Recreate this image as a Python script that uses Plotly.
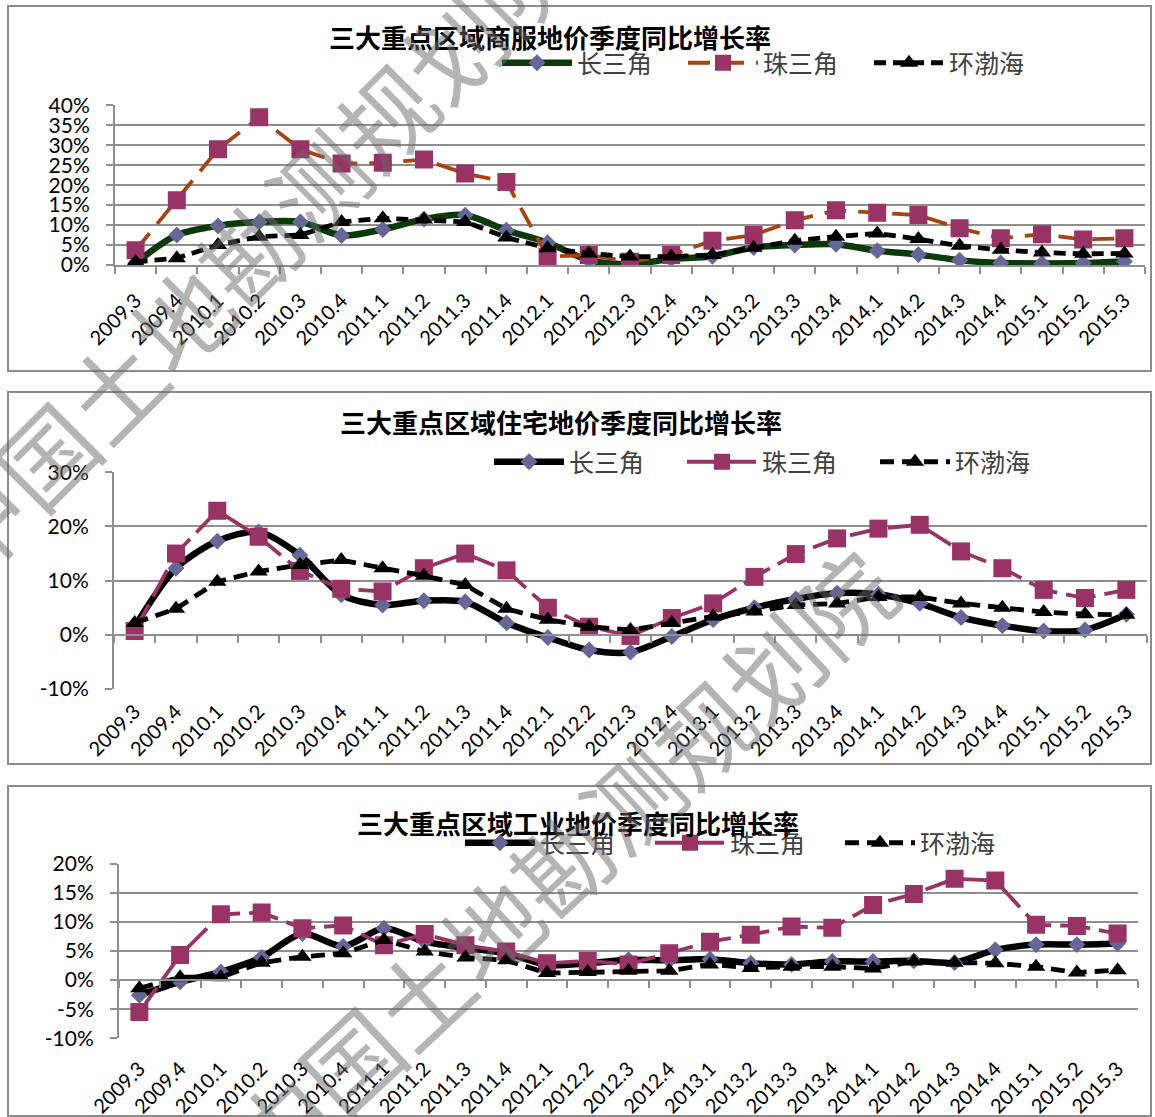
import plotly.graph_objects as go

W, H = 1155, 1117

quarters = ["2009.3", "2009.4",
            "2010.1", "2010.2", "2010.3", "2010.4",
            "2011.1", "2011.2", "2011.3", "2011.4",
            "2012.1", "2012.2", "2012.3", "2012.4",
            "2013.1", "2013.2", "2013.3", "2013.4",
            "2014.1", "2014.2", "2014.3", "2014.4",
            "2015.1", "2015.2", "2015.3"]

regions = ["长三角", "珠三角", "环渤海"]

titles = ["三大重点区域商服地价季度同比增长率",
          "三大重点区域住宅地价季度同比增长率",
          "三大重点区域工业地价季度同比增长率"]

# 商服地价同比增长率 (%)
comm_yrd = [0.5, 7.5, 9.8, 10.8, 10.8, 7.4, 8.9, 11.5, 12.5, 8.7, 5.6, 1.2, 0.2,
            1.5, 2.2, 4.4, 5.0, 5.2, 3.6, 2.6, 1.2, 0.5, 0.4, 0.5, 0.9]
comm_prd = [3.7, 16.2, 29.0, 37.0, 29.0, 25.4, 25.6, 26.4, 22.9, 20.8, 2.1, 2.5, 0.8,
            2.5, 6.1, 7.5, 11.2, 13.7, 13.1, 12.5, 9.2, 6.7, 7.7, 6.4, 6.7]
comm_bh = [0.8, 1.7, 5.0, 7.1, 7.5, 10.8, 11.7, 11.4, 10.8, 6.9, 4.2, 2.9, 2.1,
           2.1, 2.5, 4.3, 6.1, 7.1, 7.9, 6.5, 4.8, 3.8, 3.1, 2.8, 2.9]

# 住宅地价同比增长率 (%)
res_yrd = [1.5, 12.3, 17.3, 19.0, 14.7, 7.4, 5.5, 6.3, 6.1, 2.2, -0.5, -2.8, -3.2,
           -0.3, 2.8, 5.0, 6.6, 7.7, 7.5, 5.8, 3.2, 1.7, 0.7, 0.9, 3.8]
res_prd = [0.7, 15.0, 22.9, 18.1, 11.8, 8.5, 8.0, 12.3, 15.0, 11.9, 5.0, 1.5, -0.2,
           3.1, 5.8, 10.7, 14.9, 17.8, 19.6, 20.3, 15.4, 12.3, 8.3, 6.8, 8.3]
res_bh = [2.2, 4.8, 9.8, 11.7, 12.9, 13.8, 12.3, 10.9, 9.2, 4.8, 2.8, 1.5, 0.9,
          2.2, 3.4, 4.3, 5.5, 5.8, 7.0, 7.0, 5.8, 5.0, 4.2, 3.8, 3.7]

# 工业地价同比增长率 (%)
ind_yrd = [-2.6, -0.3, 1.4, 3.9, 8.0, 5.8, 8.9, 6.6, 5.5, 4.6, 2.6, 2.9, 3.5,
           3.4, 3.6, 2.9, 2.7, 3.2, 3.2, 3.3, 3.0, 5.2, 6.1, 6.1, 6.3]
ind_prd = [-5.5, 4.3, 11.3, 11.6, 8.9, 9.4, 6.0, 7.9, 6.0, 4.9, 2.9, 3.3, 2.7,
           4.6, 6.6, 7.8, 9.2, 9.0, 12.9, 14.8, 17.4, 17.1, 9.5, 9.3, 8.0]
ind_bh = [-1.4, 0.5, 0.5, 3.0, 4.0, 4.6, 6.9, 4.9, 3.9, 3.4, 1.2, 1.4, 1.6,
          1.6, 2.7, 2.1, 2.3, 2.3, 2.0, 3.2, 3.0, 2.9, 2.3, 1.3, 1.7]

comm_ticks = [0, 5, 10, 15, 20, 25, 30, 35, 40]
res_ticks = [-10, 0, 10, 20, 30]
ind_ticks = [-10, -5, 0, 5, 10, 15, 20]

watermark = "中国土地勘测规划院"


def px_x(v):
    return v / W


def px_y(v):
    return 1 - v / H


CJK = "Noto Sans CJK SC"
NUM = "Lato"
GRID = "#8f8f8f"
SQUARE = "#993366"
DIAMOND = "#666699"

# layout of the three panels (pixel boxes)
panels = [
    dict(suffix="", legend="legend", series=[comm_yrd, comm_prd, comm_bh],
         ticks=comm_ticks, x0=115, x1=1145, ytop=105.3, ybot=265,
         box=(8, 6, 1151, 371), title_xy=(550, 36),
         legend_xy=(497, 63), legend_step=101,
         yrd_color="#0A3A0A", prd_line="#A8420E",
         prd_dash="22px,12px", bh_dash="12px,7px", axis_at_zero=False,
         label_pad=14),
    dict(suffix="2", legend="legend2", series=[res_yrd, res_prd, res_bh],
         ticks=res_ticks, x0=114, x1=1147, ytop=472.3, ybot=689,
         box=(8, 392, 1151, 764), title_xy=(561, 422),
         legend_xy=(489, 462), legend_step=108,
         yrd_color="#000000", prd_line=SQUARE,
         prd_dash="30px,9px", bh_dash="14px,8px", axis_at_zero=True,
         label_pad=6),
    dict(suffix="3", legend="legend3", series=[ind_yrd, ind_prd, ind_bh],
         ticks=ind_ticks, x0=119, x1=1138, ytop=863.7, ybot=1038.3,
         box=(8, 786, 1151, 1116), title_xy=(578, 822),
         legend_xy=(460, 843), legend_step=105,
         yrd_color="#000000", prd_line=SQUARE,
         prd_dash="30px,9px", bh_dash="14px,8px", axis_at_zero=True,
         label_pad=14),
]

fig = go.Figure()
layout = dict(
    width=W, height=H,
    margin=dict(l=0, r=0, t=0, b=0, autoexpand=False),
    paper_bgcolor="white", plot_bgcolor="white",
    showlegend=True,
    annotations=[], shapes=[],
)

for i, p in enumerate(panels):
    s = p["suffix"]
    xa, ya = "x" + s, "y" + s
    yrd, prd, bh = p["series"]

    fig.add_trace(go.Scatter(
        x=quarters, y=yrd, name=regions[0], xaxis=xa, yaxis=ya, legend=p["legend"],
        mode="lines+markers",
        line=dict(color=p["yrd_color"], width=6.5, shape="spline", smoothing=0.8),
        marker=dict(symbol="diamond", size=13, color=DIAMOND)))
    fig.add_trace(go.Scatter(
        x=quarters, y=prd, name=regions[1], xaxis=xa, yaxis=ya, legend=p["legend"],
        mode="lines+markers",
        line=dict(color=p["prd_line"], width=3.8, dash=p["prd_dash"]),
        marker=dict(symbol="square", size=18, color=SQUARE)))
    fig.add_trace(go.Scatter(
        x=quarters, y=bh, name=regions[2], xaxis=xa, yaxis=ya, legend=p["legend"],
        mode="lines+markers",
        line=dict(color="black", width=4.8, dash=p["bh_dash"]),
        marker=dict(symbol="triangle-up", size=16, color="black")))

    lo, hi = p["ticks"][0], p["ticks"][-1]
    ydom = [px_y(p["ybot"]), px_y(p["ytop"])]
    xdom = [px_x(p["x0"]), px_x(p["x1"])]

    layout["xaxis" + s] = dict(
        domain=xdom, anchor=ya, type="category", range=[-0.5, len(quarters) - 0.5],
        showgrid=False, zeroline=False, tickangle=-45,
        tickfont=dict(family=NUM, size=20, color="black"),
        showline=not p["axis_at_zero"], linecolor=GRID, linewidth=2,
        ticks="" if p["axis_at_zero"] else "outside", tickson="boundaries",
        ticklen=7, tickcolor=GRID, tickwidth=2,
        ticklabelstandoff=p["label_pad"],
    )
    layout["yaxis" + s] = dict(
        domain=ydom, anchor=xa, range=[lo, hi], tickmode="array",
        tickvals=p["ticks"], ticktext=[f"{t}%" for t in p["ticks"]],
        showgrid=True, gridcolor=GRID, gridwidth=1.6,
        zeroline=False, showline=True, linecolor=GRID, linewidth=2,
        ticks="outside", ticklen=7, tickcolor=GRID, tickwidth=2,
        tickfont=dict(family=NUM, size=21, color="black"),
        ticklabelstandoff=12,
    )

    if p["axis_at_zero"]:
        # category axis crossing at 0% with boundary tick marks, labels stay at the bottom
        ov = "xaxis" + str(3 + i)
        zero_pos = ydom[0] + (0 - lo) / (hi - lo) * (ydom[1] - ydom[0])
        layout[ov] = dict(
            overlaying=xa, matches=xa, anchor="free", position=zero_pos,
            domain=xdom, type="category", showticklabels=False, showgrid=False,
            zeroline=False, showline=True, linecolor=GRID, linewidth=2,
            ticks="outside", tickson="boundaries", ticklen=7, tickcolor=GRID,
            tickwidth=2,
        )
        fig.add_trace(go.Scatter(
            x=quarters, y=yrd, xaxis="x" + str(3 + i), yaxis=ya, mode="lines",
            line=dict(width=0), opacity=0, showlegend=False, hoverinfo="skip"))

    lx, ly = p["legend_xy"]
    layout[p["legend"]] = dict(
        orientation="h", x=px_x(lx), y=px_y(ly),
        xanchor="left", yanchor="middle", bgcolor="rgba(0,0,0,0)",
        itemwidth=70, entrywidth=p["legend_step"], entrywidthmode="pixels",
        font=dict(family=CJK, size=25, color="#404040"),
    )

    tx, ty = p["title_xy"]
    layout["annotations"].append(dict(
        text=titles[i], x=px_x(tx), y=px_y(ty), xref="paper", yref="paper",
        xanchor="center", yanchor="middle", showarrow=False,
        font=dict(family=CJK, size=26, color="black", weight="bold")))

    bx0, by0, bx1, by1 = p["box"]
    layout["shapes"].append(dict(
        type="rect", xref="paper", yref="paper", layer="below",
        x0=px_x(bx0), x1=px_x(bx1), y0=px_y(by1), y1=px_y(by0),
        line=dict(color="#8c8c8c", width=2), fillcolor="rgba(0,0,0,0)"))

# watermark
for cx, cy, ang in [(248, 250, -45), (560, 862, -43)]:
    layout["annotations"].append(dict(
        text=watermark, x=px_x(cx), y=px_y(cy), xref="paper", yref="paper",
        xanchor="center", yanchor="middle", showarrow=False, textangle=ang,
        font=dict(family=CJK, size=96, color="rgba(105,105,105,0.5)")))

fig.update_layout(**layout)
fig.write_html("out.html")
